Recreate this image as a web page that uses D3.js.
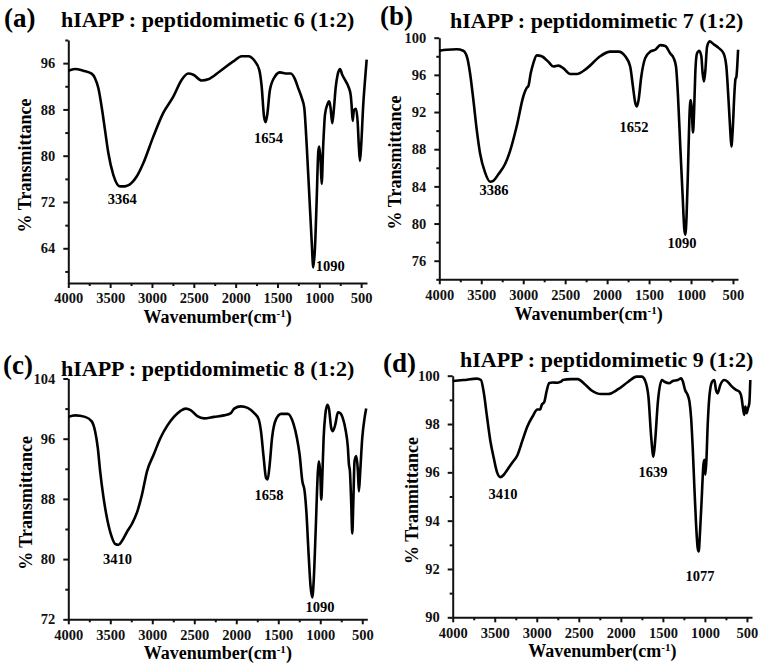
<!DOCTYPE html>
<html>
<head>
<meta charset="utf-8">
<title>FTIR spectra</title>
<script src="https://cdn.jsdelivr.net/npm/d3@7"></script>
<style>
body { margin: 0; background: #fff; }
svg { font-family: "Liberation Serif", "Times New Roman", serif; font-weight: bold; }
.tick text { font-family: "Liberation Serif", serif; font-weight: bold; font-size: 14.5px; fill: #111; }
.domain, .tick line { stroke: #111; stroke-width: 2px; }
</style>
</head>
<body>
<script>
// wavenumber ticks shared by all panels
var xTicks = [4000, 3500, 3000, 2500, 2000, 1500, 1000, 500];

// y tick labels
var yTicksA = [64, 72, 80, 88, 96];
var yTicksB = [76, 80, 84, 88, 92, 96, 100];
var yTicksC = [72, 80, 88, 96, 104];
var yTicksD = [90, 92, 94, 96, 98, 100];

// titles
var titles = [
  "hIAPP : peptidomimetic 6 (1:2)",
  "hIAPP : peptidomimetic 7 (1:2)",
  "hIAPP : peptidomimetic 8 (1:2)",
  "hIAPP : peptidomimetic 9 (1:2)"
];
var yTitles = ["% Transmittance", "% Transmittance", "% Transmittance", "% Tranmittance"];

// peak labels
var peaksA = ["3364", "1654", "1090"];
var peaksB = ["3386", "1652", "1090"];
var peaksC = ["3410", "1658", "1090"];
var peaksD = ["3410", "1639", "1077"];

// spectra, [wavenumber, % transmittance]
var spectrumA = [[4000,94.7],[3920,95.0],[3821,94.7],[3721,94.2],[3681,93.4],[3641,91.7],[3602,88.5],[3562,84.5],[3522,80.5],[3462,76.7],[3382,74.7],[3323,74.7],[3243,75.3],[3183,76.4],[3104,78.7],[2984,83.3],[2865,87.4],[2745,90.2],[2646,93.1],[2566,94.2],[2506,94.0],[2406,93.0],[2327,93.2],[2187,94.6],[2028,96.3],[1928,97.2],[1849,97.2],[1769,96.3],[1717,94.8],[1689,92.0],[1661,86.8],[1641,85.8],[1622,87.1],[1590,91.4],[1530,93.7],[1470,94.4],[1390,94.2],[1340,94.2],[1290,93.2],[1250,91.6],[1210,90.0],[1180,88.3],[1151,81.9],[1120,73.3],[1091,65.2],[1072,60.7],[1052,64.0],[1032,72.1],[1012,80.7],[1001,81.6],[984,79.0],[972,75.1],[953,81.9],[932,87.1],[905,88.8],[881,89.4],[865,88.2],[845,85.6],[825,88.2],[805,91.7],[781,94.0],[753,95.0],[726,94.0],[693,93.1],[654,92.0],[625,90.5],[613,88.5],[601,86.0],[586,87.9],[562,88.1],[542,85.9],[526,81.3],[514,79.1],[499,81.9],[475,88.8],[455,92.8],[434,96.6]];

var spectrumB = [[4000,98.6],[3912,98.7],[3793,98.75],[3714,98.6],[3666,97.8],[3634,96.2],[3594,93.3],[3554,90.1],[3515,87.6],[3455,85.5],[3395,84.5],[3356,84.6],[3296,85.3],[3216,86.4],[3157,87.8],[3077,90.5],[2998,93.7],[2958,94.6],[2938,94.8],[2910,96.2],[2878,97.3],[2838,98.1],[2779,98.0],[2699,97.4],[2640,96.9],[2580,97.0],[2520,96.7],[2441,96.1],[2361,96.1],[2242,96.7],[2083,98.0],[1963,98.5],[1864,98.5],[1784,98.0],[1725,96.9],[1693,94.8],[1665,93.0],[1645,92.6],[1625,93.3],[1593,95.8],[1546,97.8],[1486,98.5],[1426,98.7],[1366,99.2],[1307,99.1],[1247,98.3],[1207,97.8],[1179,96.9],[1155,93.7],[1128,88.3],[1100,83.0],[1080,79.4],[1068,78.8],[1053,80.8],[1036,85.8],[1020,91.2],[1005,93.3],[993,92.6],[976,89.8],[964,91.9],[949,96.2],[929,98.3],[901,98.6],[877,98.0],[862,96.2],[845,95.3],[829,96.5],[809,99.0],[778,99.6],[730,99.3],[671,98.9],[611,98.3],[579,96.9],[551,93.0],[531,89.8],[519,88.3],[503,90.1],[483,94.0],[471,95.5],[459,95.8],[439,98.7]];

var spectrumC = [[4000,98.9],[3920,99.1],[3800,98.9],[3721,98.3],[3681,97.0],[3649,94.8],[3621,91.7],[3581,88.2],[3533,85.1],[3481,82.9],[3441,82.0],[3402,81.9],[3362,82.4],[3302,83.6],[3242,84.7],[3182,86.2],[3122,88.6],[3062,91.7],[2983,93.9],[2903,96.1],[2823,97.7],[2743,98.9],[2663,99.7],[2604,100.0],[2544,99.8],[2464,99.0],[2384,98.7],[2264,98.9],[2145,99.1],[2065,99.4],[2025,100.0],[1945,100.3],[1865,100.1],[1786,99.4],[1734,98.6],[1706,97.0],[1674,93.5],[1646,90.8],[1626,90.6],[1602,92.6],[1574,96.1],[1526,98.6],[1466,99.3],[1387,99.3],[1317,97.9],[1278,96.1],[1246,93.9],[1214,90.4],[1186,89.0],[1166,86.4],[1139,80.7],[1115,76.3],[1095,74.9],[1076,77.6],[1055,83.7],[1028,91.7],[1016,93.0],[999,91.2],[988,87.9],[976,90.8],[960,96.1],[940,99.2],[916,100.5],[897,100.0],[869,97.4],[850,97.0],[821,97.9],[790,99.5],[762,99.4],[731,98.7],[699,97.2],[671,94.8],[659,92.6],[647,91.7],[631,87.3],[619,83.4],[607,87.3],[592,93.0],[572,93.7],[552,91.7],[540,89.0],[524,91.7],[500,96.1],[473,98.7],[453,100.0]];

var spectrumD = [[4000,99.78],[3872,99.82],[3712,99.88],[3664,99.82],[3632,99.34],[3592,98.3],[3552,97.3],[3512,96.6],[3472,96.0],[3432,95.8],[3392,95.9],[3352,96.1],[3292,96.4],[3232,96.7],[3172,97.3],[3112,97.9],[3052,98.3],[2992,98.6],[2960,98.6],[2940,98.8],[2912,98.9],[2884,99.34],[2852,99.7],[2812,99.72],[2752,99.71],[2712,99.75],[2692,99.82],[2592,99.86],[2512,99.86],[2432,99.66],[2352,99.4],[2232,99.24],[2152,99.24],[2032,99.44],[1912,99.75],[1812,99.96],[1752,99.96],[1712,99.8],[1672,99.13],[1640,97.5],[1612,96.65],[1592,97.3],[1560,98.9],[1512,99.82],[1481,99.75],[1422,99.69],[1383,99.78],[1323,99.82],[1283,99.89],[1264,99.78],[1236,99.41],[1205,99.2],[1184,98.93],[1164,98.24],[1145,97.0],[1125,95.35],[1105,93.83],[1086,92.87],[1074,92.73],[1058,93.55],[1038,94.93],[1018,96.31],[1006,96.52],[995,95.9],[983,96.45],[967,97.96],[947,99.13],[915,99.75],[888,99.82],[868,99.41],[849,99.27],[817,99.62],[769,99.82],[730,99.75],[690,99.59],[630,99.41],[591,99.34],[563,99.07],[547,98.65],[532,98.38],[519,98.72],[504,98.45],[488,98.65],[472,98.86],[460,99.82]];

// layout of each panel (pixels), label anchors in data units
var panels = [
  { letter: "(a)", data: spectrumA, yTicks: yTicksA, yDom: [58, 100], minorStep: 4, peaks: peaksA,
    left: 68.3, right: 367, top: 40, bottom: 283, xEnd: 430,
    letterPos: [4, 27], titlePos: [61, 27], yTitleX: 31, xTitleY: 323,
    peakAt: [[3354, 71.6], [1608, 82.2], [869, 60.1]] },
  { letter: "(b)", data: spectrumB, yTicks: yTicksB, yDom: [74, 100], minorStep: 2, peaks: peaksB,
    left: 439.3, right: 738, top: 37.7, bottom: 279.3, xEnd: 440,
    letterPos: [380, 25], titlePos: [450, 28], yTitleX: 401, xTitleY: 320,
    peakAt: [[3348, 83.1], [1680, 89.8], [1107, 77.4]] },
  { letter: "(c)", data: spectrumC, yTicks: yTicksC, yDom: [72, 104], minorStep: 4, peaks: peaksC,
    left: 68.3, right: 367.3, top: 378.5, bottom: 619.3, xEnd: 440,
    letterPos: [3, 374], titlePos: [61, 376], yTitleX: 32, xTitleY: 659,
    peakAt: [[3414, 79.4], [1610, 87.9], [1003, 73.0]] },
  { letter: "(d)", data: spectrumD, yTicks: yTicksD, yDom: [90, 100], minorStep: 1, peaks: peaksD,
    left: 452.7, right: 752, top: 375.7, bottom: 617.3, xEnd: 440,
    letterPos: [383, 372], titlePos: [460, 367], yTitleX: 418, xTitleY: 657,
    peakAt: [[3402, 94.9], [1618, 95.8], [1059, 91.5]] }
];

var svg = d3.select("body").append("svg").attr("width", 761).attr("height", 664);

panels.forEach(function(p, i) {
  var x = d3.scaleLinear().domain([4000, p.xEnd]).range([p.left, p.right]);
  var y = d3.scaleLinear().domain(p.yDom).range([p.bottom, p.top]);

  var g = svg.append("g");

  // minor ticks
  var minorX = d3.range(3750, p.xEnd, -500);
  var minorY = d3.range(p.yTicks[0] - p.minorStep, p.yDom[1] + 0.001, p.minorStep * 2)
    .filter(function(v) { return v >= p.yDom[0] && v <= p.yDom[1]; });

  g.append("g").attr("transform", "translate(0," + p.bottom + ")")
    .call(d3.axisBottom(x).tickValues(minorX).tickSize(3).tickFormat("").tickSizeOuter(0))
    .select(".domain").remove();
  g.append("g").attr("transform", "translate(" + p.left + ",0)")
    .call(d3.axisLeft(y).tickValues(minorY).tickSize(3).tickFormat("").tickSizeOuter(0))
    .select(".domain").remove();

  // major axes
  g.append("g").attr("transform", "translate(0," + p.bottom + ")")
    .call(d3.axisBottom(x).tickValues(xTicks).tickFormat(d3.format("d"))
      .tickSize(5).tickPadding(5).tickSizeOuter(0));
  g.append("g").attr("transform", "translate(" + p.left + ",0)")
    .call(d3.axisLeft(y).tickValues(p.yTicks).tickFormat(d3.format("d"))
      .tickSize(5).tickPadding(8).tickSizeOuter(0));

  // spectrum
  var line = d3.line()
    .x(function(d) { return x(d[0]); })
    .y(function(d) { return y(d[1]); })
    .curve(d3.curveMonotoneX);
  g.append("path").datum(p.data)
    .attr("d", line)
    .attr("fill", "none")
    .attr("stroke", "#000")
    .attr("stroke-width", 2.6)
    .attr("stroke-linejoin", "round");

  // peak labels
  p.peaks.forEach(function(t, k) {
    g.append("text")
      .attr("x", x(p.peakAt[k][0]))
      .attr("y", y(p.peakAt[k][1]))
      .attr("text-anchor", "middle")
      .style("font-size", "14.5px")
      .text(t);
  });

  // panel letter and title
  g.append("text").attr("x", p.letterPos[0]).attr("y", p.letterPos[1])
    .style("font-size", "27px").text(p.letter);
  g.append("text").attr("x", p.titlePos[0]).attr("y", p.titlePos[1])
    .style("font-size", "22px").text(titles[i]);

  // axis titles
  var xt = g.append("text")
    .attr("x", (p.left + p.right) / 2)
    .attr("y", p.xTitleY)
    .attr("text-anchor", "middle")
    .style("font-size", "18px");
  xt.append("tspan").text("Wavenumber(cm");
  xt.append("tspan").attr("dy", -6).style("font-size", "11px").text("-1");
  xt.append("tspan").attr("dy", 6).text(")");

  g.append("text")
    .attr("transform", "translate(" + p.yTitleX + "," + ((p.top + p.bottom) / 2 + 4) + ") rotate(-90)")
    .attr("text-anchor", "middle")
    .style("font-size", "18px")
    .text(yTitles[i]);
});
</script>
</body>
</html>
